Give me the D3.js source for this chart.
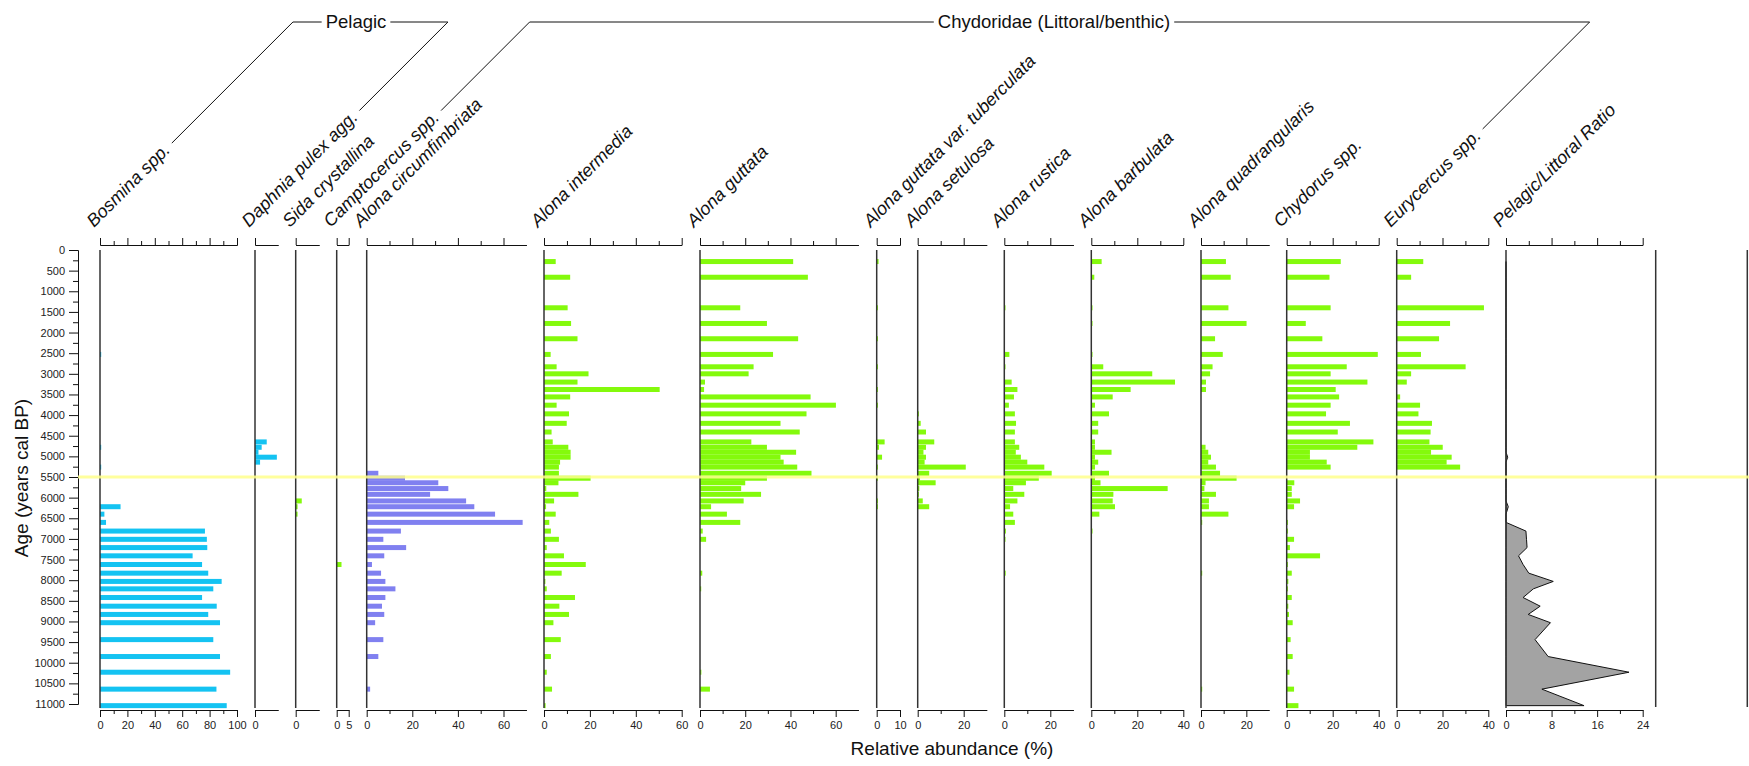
<!DOCTYPE html>
<meta charset="utf-8">
<script src="https://d3js.org/d3.v7.min.js"></script>
<style>
  body { margin: 0; background: #fff; }
  svg { display: block; font-family: "Liberation Sans", Arial, sans-serif; }
  .taxon { font-style: italic; font-size: 18px; fill: #111; }
  .group { font-size: 18.5px; fill: #111; }
  .tick text { font-size: 11px; fill: #222; }
  .title { font-size: 19px; fill: #111; }
</style>
<body>
<svg id="chart" width="1749" height="766"></svg>
<script>
// sample ages (years cal BP), one row per counted level
var ages = [280, 660, 1400, 1780, 2150, 2530, 2830, 3000, 3200, 3380, 3560, 3760, 3970, 4200, 4410,
  4650, 4780, 4900, 5020, 5140, 5260, 5410, 5530, 5640,
  5780, 5920, 6080, 6220, 6400, 6600, 6810, 7010, 7210, 7410, 7620, 7830, 8030, 8210, 8420, 8630, 8830, 9030, 9440, 9850, 10230, 10640, 11040];

// relative abundances (%) per taxon, same order as ages
var bosmina = [0, 0, 0, 0, 0, 0.5, 0, 0, 0, 0, 0, 0, 0, 0, 0,
  0, 0.5, 0, 0, 0, 0.5, 0, 0, 0,
  0, 0, 0, 15, 3.2, 4.4, 76.6, 78, 78.3, 67.6, 74.5, 79, 88.8, 82.7, 74.5, 85.2, 79, 87.6, 82.7, 87.6, 95, 85, 92.5];
var daphnia = [0, 0, 0, 0, 0, 0, 0, 0, 0, 0, 0, 0, 0, 0, 0,
  5.1, 2.9, 1.5, 9.5, 2.2, 0, 0, 0, 0,
  0, 0, 0, 0, 0, 0, 0, 0, 0, 0, 0, 0, 0, 0, 0, 0, 0, 0, 0, 0, 0, 0, 0];
var sida = [0, 0, 0, 0, 0, 0, 0, 0, 0, 0, 0, 0, 0, 0, 0,
  0, 0, 0, 0, 0, 0, 0, 0, 0,
  0, 0, 2.6, 0.8, 0.8, 0, 0, 0, 0, 0, 0, 0, 0, 0, 0, 0, 0, 0, 0, 0, 0, 0, 0];
var camptocercus = [0, 0, 0, 0, 0, 0, 0, 0, 0, 0, 0, 0, 0, 0, 0,
  0, 0, 0, 0, 0, 0, 0, 0, 0,
  0, 0, 0, 0, 0, 0, 0, 0, 0, 0, 2, 0, 0, 0, 0, 0, 0, 0, 0, 0, 0, 0, 0];
var circumfimbriata = [0, 0, 0, 0, 0, 0, 0, 0, 0, 0, 0, 0, 0, 0, 0,
  0, 0, 0, 0, 0, 0, 5.1, 16.8, 31.4,
  35.8, 27.8, 43.6, 47.2, 56.3, 68.4, 15, 7.3, 17.3, 7.7, 2.3, 6.3, 8.2, 12.6, 8.2, 6.7, 7.7, 3.7, 7.3, 5.1, 0, 1.5, 0];
var intermedia = [5.1, 11.4, 10.3, 11.8, 14.6, 2.9, 5.5, 19.4, 14.6, 50.4, 11.4, 5.5, 10.9, 9.9, 3.3,
  3.8, 10.6, 11.6, 11.6, 7, 6.5, 6.5, 20.3, 6.3,
  1, 15, 4.4, 0.9, 5.1, 2.3, 3, 6.5, 1.2, 8.7, 18.2, 7.7, 0.6, 1.2, 13.5, 6.7, 10.9, 4.1, 7.3, 3, 1.2, 3.5, 0.7];
var guttata = [41.2, 47.7, 17.8, 29.6, 43.4, 32.3, 23.7, 21.5, 2.2, 1.8, 48.9, 60.1, 47.1, 35.6, 44.1,
  22.7, 29.6, 42.5, 35.6, 37, 43, 49.3, 29.6, 20,
  18.2, 27, 19.3, 4.9, 11.9, 17.8, 1.2, 2.7, 0, 0, 0, 1, 0, 0.3, 0, 0, 0, 0, 0, 0, 0.6, 4.4, 0];
var tuberculata = [0.8, 0, 0.3, 0, 0.3, 0, 0.3, 0, 0, 0.3, 0, 0.3, 0, 0, 0,
  3.4, 1, 0, 2.3, 0, 0.3, 0, 0.3, 0,
  0, 0, 0.3, 0.3, 0, 0, 0, 0, 0, 0, 0, 0, 0, 0, 0, 0, 0, 0, 0, 0, 0, 0, 0];
var setulosa = [0, 0, 0, 0, 0, 0, 0, 0, 0, 0, 0, 0, 0.3, 1.3, 3.6,
  7.2, 3.6, 2.5, 3.6, 3, 20.9, 5, 1, 7.8,
  0.7, 0.3, 2.2, 5, 0, 0, 0, 0, 0, 0, 0, 0, 0, 0, 0, 0, 0, 0, 0, 0, 0, 0, 0];
var rustica = [0, 0, 0.3, 0, 0, 2.2, 0.3, 0, 3.2, 5.7, 4.2, 2, 4.6, 5.1, 4.6,
  4.6, 6.5, 5, 7.2, 10, 17.4, 20.6, 15, 9.4,
  3.9, 8.7, 5.7, 2.5, 3.9, 4.6, 0.7, 0.3, 0, 0, 0, 0.6, 0, 0, 0, 0, 0, 0, 0, 0, 0, 0, 0];
var barbulata = [4.5, 1.3, 0.3, 0.3, 0, 0.3, 5.2, 26.5, 36.4, 17.1, 9.3, 1.6, 7.7, 3, 3,
  1.6, 1.6, 8.8, 1.6, 3, 1.6, 7.7, 1.6, 4,
  33.2, 9.6, 9.3, 10.3, 3.5, 0, 0.5, 0, 0, 0, 0, 0, 0, 0, 0, 0, 0, 0, 0, 0, 0, 0, 0];
var quadrangularis = [11, 13.1, 12.1, 20.1, 6.2, 9.6, 5.1, 4, 2.2, 2.2, 0, 0, 0, 0, 0,
  0, 2, 3.2, 4.4, 3.2, 6.6, 8.4, 15.7, 2,
  1.5, 6.6, 3.5, 3.5, 12.1, 0.3, 0, 0, 0, 0, 0, 0.3, 0, 0, 0, 0, 0, 0, 0, 0, 0, 0.5, 0];
var chydorus = [23.5, 18.6, 19.1, 8.3, 15.5, 39.6, 26.1, 19.1, 35.1, 21.3, 22.8, 19.1, 17.1, 27.5, 22.2,
  37.7, 30.7, 10.1, 10.1, 17.4, 19.1, 0, 0, 3.3,
  2.2, 2.2, 5.8, 3.2, 0, 0.3, 0.5, 3.2, 1.4, 14.5, 0.3, 2.2, 0.7, 0.5, 2.2, 0.7, 1, 2.6, 1.7, 2.6, 1.2, 3.2, 5.1];
var eurycercus = [11.6, 6.3, 38.1, 23.3, 18.5, 10.6, 30.1, 6.3, 4.4, 0, 1.5, 10.2, 9.5, 15.4, 14.8,
  14.3, 20.1, 15, 24, 21.8, 27.7, 0, 0, 0,
  0, 0, 0, 0, 0, 0, 0, 0, 0, 0, 0, 0, 0, 0, 0, 0, 0, 0, 0, 0, 0, 0, 0];
var ratio = [0, 0, 0, 0, 0, 0, 0, 0, 0, 0, 0, 0, 0, 0, 0,
  0, 0, 0, 0.3, 0, 0, 0, 0, 0,
  0, 0, 0, 0.4, 0, 0, 3.5, 3.6, 3.7, 2.2, 3, 4, 8.3, 4.8, 3, 6, 3.9, 7.8, 5.1, 7.4, 21.6, 6.3, 13.7];

var taxa = ["Bosmina spp.", "Daphnia pulex agg.", "Sida crystallina", "Camptocercus spp.",
  "Alona circumfimbriata", "Alona intermedia", "Alona guttata", "Alona guttata var. tuberculata",
  "Alona setulosa", "Alona rustica", "Alona barbulata", "Alona quadrangularis",
  "Chydorus spp.", "Eurycercus spp.", "Pelagic/Littoral Ratio"];
var series = [bosmina, daphnia, sida, camptocercus, circumfimbriata, intermedia, guttata, tuberculata,
  setulosa, rustica, barbulata, quadrangularis, chydorus, eurycercus, ratio];

var panelMax = [100, 10, 10, 5, 70, 60, 70, 10, 30, 30, 40, 30, 40, 40, 24];
var panelLabels = [[0, 20, 40, 60, 80, 100], [0], [0], [0, 5], [0, 20, 40, 60], [0, 20, 40, 60], [0, 20, 40, 60],
  [0, 10], [0, 20], [0, 20], [0, 20, 40], [0, 20], [0, 20, 40], [0, 20, 40], [0, 8, 16, 24]];
var panelMinor = [[10, 30, 50, 70, 90], [], [], [], [10, 30, 50], [10, 30, 50], [10, 30, 50],
  [], [10], [10], [10, 30], [10], [10, 30], [10, 30], [4, 12, 20]];
var ageTicks = [0, 500, 1000, 1500, 2000, 2500, 3000, 3500, 4000, 4500, 5000, 5500,
  6000, 6500, 7000, 7500, 8000, 8500, 9000, 9500, 10000, 10500, 11000];
var ageMinor = [250, 750, 1250, 1750, 2250, 2750, 3250, 3750, 4250, 4750, 5250, 5750,
  6250, 6750, 7250, 7750, 8250, 8750, 9250, 9750, 10250, 10750];
var markerAge = 5500;

// layout
var panelLeft = [100, 255, 295.7, 336.7, 366.7, 544, 700, 876.7, 917.7, 1004.3, 1091.3, 1201, 1286.7, 1396.7, 1506];
var panelRight = [237, 278, 319, 348.7, 526.3, 681.7, 858.3, 900, 986.7, 1073.3, 1183.3, 1269, 1378.7, 1488.3, 1642.7];
var emptyColumns = [1655.7, 1747.3];
var cyan = "#14c3f2", purple = "#8080f0", green = "#84fa0c";
var panelColor = [cyan, cyan, green, green, purple, green, green, green, green, green, green, green, green, green, "#a3a3a3"];

var svg = d3.select("#chart");
var y = d3.scaleLinear().domain([0, 11000]).range([250, 704]);
var barH = 5;
var topY = 245, bottomY = 710, labelY = 228;
var c45 = Math.SQRT1_2;
var fmt = d3.format("d");

function cleanAxis(sel) {
  sel.attr("font-size", null).attr("font-family", null);
  sel.selectAll("path, line").attr("stroke", "#111");
}

var labelEnds = [];

taxa.forEach(function (name, i) {
  var x = d3.scaleLinear().domain([0, panelMax[i]]).range([panelLeft[i], panelRight[i]]);
  var g = svg.append("g");
  var rows = ages.map(function (a, k) { return { age: a, v: series[i][k] }; });

  if (name === "Pelagic/Littoral Ratio") {
    var area = d3.area()
      .x0(x(0))
      .x1(function (d) { return x(d.v); })
      .y(function (d) { return y(d.age); });
    g.append("path").datum(rows)
      .attr("d", area)
      .attr("fill", panelColor[i])
      .attr("stroke", "#111")
      .attr("stroke-width", 1);
  } else {
    g.selectAll("rect").data(rows.filter(function (d) { return d.v > 0; }))
      .enter().append("rect")
      .attr("x", x(0))
      .attr("y", function (d) { return y(d.age) - barH / 2; })
      .attr("width", function (d) { return Math.max(1.2, x(d.v) - x(0)); })
      .attr("height", barH)
      .attr("fill", panelColor[i]);
  }

  // zero line of the panel
  g.append("line")
    .attr("x1", x(0)).attr("x2", x(0))
    .attr("y1", y(0)).attr("y2", y(11000) + 4)
    .attr("stroke", "#333").attr("stroke-width", 1.5);

  // top axis, ticks only
  g.append("g").attr("transform", "translate(0," + topY + ")")
    .call(d3.axisTop(x).tickValues(panelLabels[i]).tickSize(7).tickSizeOuter(0).tickFormat(""))
    .call(cleanAxis);
  g.append("g").attr("transform", "translate(0," + topY + ")")
    .call(d3.axisTop(x).tickValues(panelMinor[i]).tickSize(4).tickSizeOuter(0).tickFormat(""))
    .call(cleanAxis);

  // bottom axis with labels
  g.append("g").attr("transform", "translate(0," + bottomY + ")")
    .call(d3.axisBottom(x).tickValues(panelLabels[i]).tickSize(7).tickSizeOuter(0).tickPadding(4).tickFormat(fmt))
    .call(cleanAxis);
  g.append("g").attr("transform", "translate(0," + bottomY + ")")
    .call(d3.axisBottom(x).tickValues(panelMinor[i]).tickSize(4).tickSizeOuter(0).tickFormat(""))
    .call(cleanAxis);

  // rotated taxon name
  var ax = x(0) - 6;
  var t = svg.append("text")
    .attr("class", "taxon")
    .attr("transform", "translate(" + ax + "," + labelY + ") rotate(-45)")
    .text(name);
  var len = t.node().getComputedTextLength() + 6;
  labelEnds.push([ax + len * c45 - 5 * c45, labelY - len * c45 - 5 * c45]);
});

// empty columns on the right
emptyColumns.forEach(function (cx) {
  svg.append("line")
    .attr("x1", cx).attr("x2", cx)
    .attr("y1", y(0)).attr("y2", y(11000) + 3)
    .attr("stroke", "#333").attr("stroke-width", 1.5);
});

// age axis
var yAxis = svg.append("g").attr("transform", "translate(78,0)");
yAxis.append("g").call(d3.axisLeft(y).tickValues(ageTicks).tickSize(9).tickSizeOuter(0).tickPadding(4).tickFormat(fmt)).call(cleanAxis);
yAxis.append("g").call(d3.axisLeft(y).tickValues(ageMinor).tickSize(5).tickSizeOuter(0).tickFormat("")).call(cleanAxis);

// marker line
svg.append("line")
  .attr("x1", 78).attr("x2", 1749)
  .attr("y1", y(markerAge)).attr("y2", y(markerAge))
  .attr("stroke", "#ffff8c").attr("stroke-width", 3).attr("opacity", 0.85);

// group brackets: the slanted legs continue the first and last label at 45 degrees
var groups = [
  { name: "Pelagic", from: 0, to: 1, center: 356 },
  { name: "Chydoridae (Littoral/benthic)", from: 3, to: 13, center: 1054 }
];
var headY = 22;
groups.forEach(function (gr) {
  var t = svg.append("text").attr("class", "group")
    .attr("x", gr.center).attr("y", headY).attr("text-anchor", "middle").attr("dy", "0.35em")
    .text(gr.name);
  var w = t.node().getComputedTextLength();
  var a = labelEnds[gr.from], b = labelEnds[gr.to];
  var left = a[0] + (a[1] - headY), right = b[0] + (b[1] - headY);
  svg.append("path")
    .attr("d", "M" + a[0] + "," + a[1] + "L" + left + "," + headY + "H" + (gr.center - w / 2 - 4))
    .attr("fill", "none").attr("stroke", "#111").attr("stroke-width", 1);
  svg.append("path")
    .attr("d", "M" + (gr.center + w / 2 + 4) + "," + headY + "H" + right + "L" + b[0] + "," + b[1])
    .attr("fill", "none").attr("stroke", "#111").attr("stroke-width", 1);
});

// axis titles
svg.append("text").attr("class", "title")
  .attr("transform", "translate(28,478) rotate(-90)")
  .attr("text-anchor", "middle")
  .text("Age (years cal BP)");
svg.append("text").attr("class", "title")
  .attr("x", 952).attr("y", 755)
  .attr("text-anchor", "middle")
  .text("Relative abundance (%)");
</script>
</body>
